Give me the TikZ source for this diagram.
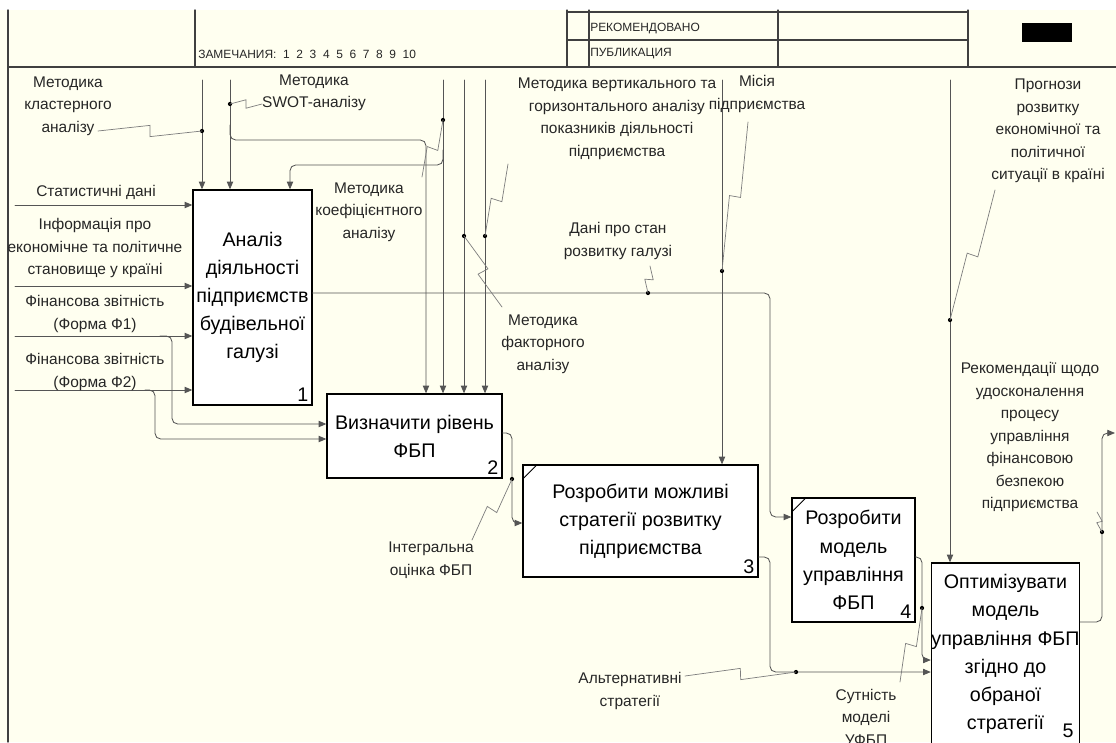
\documentclass[tikz,border=0pt]{standalone}
\usepackage{fontspec}
\setmainfont{Liberation Sans}
\usetikzlibrary{arrows.meta,calc}

\definecolor{paper}{RGB}{255,255,240}
\definecolor{linegray}{RGB}{85,85,85}
\definecolor{squiggray}{RGB}{125,125,125}

\begin{document}
\begin{tikzpicture}[x=0.025cm,y=-0.025cm,line cap=round]
  % Styles
  \tikzset{
    func/.style={draw=black, line width=0.9pt, fill=white, inner sep=0pt,
      align=center, font=\fontsize{14}{20}\selectfont},
    lbl/.style={align=center, text=black!85, inner sep=0pt,
      font=\fontsize{11}{16}\selectfont},
    num/.style={inner sep=0pt, font=\fontsize{14}{14}\selectfont},
    hdr/.style={inner sep=0pt, text=black!85, font=\fontsize{8.5}{9}\selectfont},
    flow/.style={draw=linegray, line width=0.6pt, rounded corners=4pt,
      -{Triangle[length=5.5pt,width=4.5pt]}},
    squig/.style={draw=squiggray, line width=0.5pt,
      to path={-- ($(\tikztostart)!.5!(\tikztotarget)!#1!90:(\tikztotarget)$)
               -- ($(\tikztostart)!.5!(\tikztotarget)!#1!-90:(\tikztotarget)$)
               -- (\tikztotarget)}},
    squig/.default=4pt,
    junct/.style={fill=black, radius=1.5pt}
  }

  \useasboundingbox (0,0) rectangle (1116,742);
  \fill[paper] (0,10) rectangle (1116,742);

  % Header frame
  \draw[line width=1pt, black!75] (8,10) -- (8,742);
  \draw[line width=1pt, black!75] (8,67) -- (1116,67);
  \draw[line width=1pt, black!75] (195,10) -- (195,67);
  \draw[line width=0.8pt, black!75] (567,10) -- (567,67) (589,10) -- (589,67)
    (778,10) -- (778,67) (968,10) -- (968,67)
    (567,12) -- (968,12) (567,40) -- (968,40);
  \fill[black] (1022,23) rectangle (1072,42);
  \node[hdr, anchor=base west] (zamech) at (198,59) {ЗАМЕЧАНИЯ:\ \ 1~~2~~3~~4~~5~~6~~7~~8~~9~~10};
  \node[hdr, anchor=base west] (rekom) at (590,32) {РЕКОМЕНДОВАНО};
  \node[hdr, anchor=base west] (publ) at (590,57) {ПУБЛИКАЦИЯ};

  % Function boxes
  \node[func, minimum width=2.975cm, minimum height=5.375cm] (analiz) at (252.5,297.5)
    {Аналіз\\діяльності\\підприємств\\будівельної\\галузі};
  \node[func, minimum width=4.375cm, minimum height=2.1cm] (rivn) at (414.5,436)
    {Визначити рівень\\ФБП};
  \node[func, minimum width=5.875cm, minimum height=2.8cm] (strat) at (640.5,521)
    {Розробити можливі\\стратегії розвитку\\підприємства};
  \node[func, minimum width=3.075cm, minimum height=3.1cm] (model) at (853.5,560)
    {Розробити\\модель\\управління\\ФБП};
  \node[func, minimum width=3.625cm, minimum height=4.55cm] (optim) at (1005.5,654)
    {Оптимізувати\\модель\\управління ФБП\\згідно до\\обраної\\стратегії};

  \node[num, anchor=south east] at ($(analiz.south east)+(-4,-4)$) {1};
  \node[num, anchor=south east] at ($(rivn.south east)+(-4,-4)$) {2};
  \node[num, anchor=south east] at ($(strat.south east)+(-4,-4)$) {3};
  \node[num, anchor=south east] at ($(model.south east)+(-4,-4)$) {4};
  \node[num] at (1068,731) {5};
  \draw[line width=0.6pt] ($(strat.north west)+(0,15)$) -- ++(15,-15);
  \draw[line width=0.6pt] ($(model.north west)+(0,15)$) -- ++(15,-15);

  % Inputs
  \coordinate (in1) at (15,205);
  \coordinate (in2) at (15,286);
  \coordinate (in3) at (15,336);
  \coordinate (in4) at (15,390);
  \draw[flow] (in1) -- (analiz.west |- in1);
  \draw[flow] (in2) -- (analiz.west |- in2);
  \draw[flow] (in3) -- (analiz.west |- in3);
  \draw[flow] (in4) -- (analiz.west |- in4);
  \draw[flow] (160,336) -- (172,336) -- (172,424) -- (rivn.west |- 0,424);
  \draw[flow] (145,390) -- (155,390) -- (155,439) -- (rivn.west |- 0,439);

  \node[lbl] (lstat) at (96,192) {Статистичні дані};
  \node[lbl] (linfo) at (95,248) {Інформація про\\економічне та політичне\\становище у країні};
  \node[lbl] (lf1) at (95,314) {Фінансова звітність\\(Форма Ф1)};
  \node[lbl] (lf2) at (95,372) {Фінансова звітність\\(Форма Ф2)};

  % Controls
  \draw[flow] (202,80) -- (analiz.north -| 202,0);
  \draw[flow] (230,80) -- (analiz.north -| 230,0);
  \draw[flow] (230,125) -- (230,140) -- (426,140) -- (rivn.north -| 426,0);
  \draw[flow] (443,80) -- (rivn.north -| 443,0);
  \draw[flow] (464,80) -- (rivn.north -| 464,0);
  \draw[flow] (485,80) -- (rivn.north -| 485,0);
  \draw[flow] (443,150) -- (443,165) -- (290,165) -- (analiz.north -| 290,0);
  \draw[flow] (722,80) -- (strat.north -| 722,0);
  \draw[flow] (950,80) -- (optim.north -| 950,0);

  % Outputs
  \draw[flow] (analiz.east |- 0,293) -- (770,293) -- (770,517) -- (model.west |- 0,517);
  \draw[flow] (rivn.east |- 0,433) -- (512,433) -- (512,523) -- (strat.west |- 0,523);
  \draw[flow] (strat.east |- 0,557) -- (770,557) -- (770,672) -- (optim.west |- 0,672);
  \draw[flow] (model.east |- 0,557) -- (922,557) -- (922,660) -- (optim.west |- 0,660);
  \coordinate (out5) at (1115,433);
  \draw[flow] (optim.east |- 0,622) -- (1102,622) -- (1102,433) -- (out5);

  % Junctions
  \coordinate (d-klast) at (202,131);
  \coordinate (d-swot) at (230,104);
  \coordinate (d-koef) at (443,120);
  \coordinate (d-fakt) at (464,236);
  \coordinate (d-vert) at (485,236);
  \coordinate (d-dani) at (648,293);
  \coordinate (d-misia) at (722,271);
  \coordinate (d-progn) at (950,320);
  \coordinate (d-integr) at (512,479);
  \coordinate (d-alt) at (796,672);
  \coordinate (d-sut) at (922,608);
  \coordinate (d-rek) at (1102,532);
  \foreach \d in {klast,swot,koef,fakt,vert,dani,misia,progn,integr,alt,sut,rek}
    \fill[junct] (d-\d) circle;

  % Arrow labels
  \node[lbl] (lklast) at (68,106) {Методика\\кластерного\\аналізу};
  \node[lbl] (lswot) at (314,93) {Методика\\SWOT-аналізу};
  \node[lbl] (lkoef) at (369,212) {Методика\\коефіцієнтного\\аналізу};
  \node[lbl] (lfakt) at (543,344) {Методика\\факторного\\аналізу};
  \node[lbl] (lvert) at (617,119) {Методика вертикального та\\горизонтального аналізу\\показників діяльності\\підприємства};
  \node[lbl] (ldani) at (618,241) {Дані про стан\\розвитку галузі};
  \node[lbl] (lmisia) at (757,94) {Місія\\підприємства};
  \node[lbl] (lprogn) at (1048,131) {Прогнози\\розвитку\\економічної та\\політичної\\ситуації в країні};
  \node[lbl] (lintegr) at (431,560) {Інтегральна\\оцінка ФБП};
  \node[lbl] (lalt) at (630,691) {Альтернативні\\стратегії};
  \node[lbl] (lsut) at (866,717) {Сутність\\моделі\\УФБП};
  \node[lbl] (lrek) at (1030,437) {Рекомендації щодо\\удосконалення\\процесу\\управління\\фінансовою\\безпекою\\підприємства};

  % Squiggles
  \coordinate (s-klast) at (98,131);
  \coordinate (s-swot) at (262,104);
  \coordinate (s-koef) at (422,177);
  \coordinate (s-fakt) at (502,307);
  \coordinate (s-vert) at (508,164);
  \coordinate (s-dani) at (650,266);
  \coordinate (s-misia) at (748,122);
  \coordinate (s-progn) at (995,190);
  \coordinate (s-integr) at (472,540);
  \coordinate (s-alt) at (685,676);
  \coordinate (s-sut) at (900,682);
  \coordinate (s-rek) at (1097,512);
  \draw[squig] (s-klast) to (d-klast);
  \draw[squig=3pt] (s-swot) to (d-swot);
  \draw[squig] (s-koef) to (d-koef);
  \draw[squig] (s-fakt) to (d-fakt);
  \draw[squig] (s-vert) to (d-vert);
  \draw[squig=3pt] (s-dani) to (d-dani);
  \draw[squig] (s-misia) to (d-misia);
  \draw[squig] (s-progn) to (d-progn);
  \draw[squig] (s-integr) to (d-integr);
  \draw[squig] (s-alt) to (d-alt);
  \draw[squig] (s-sut) to (d-sut);
  \draw[squig=2pt] (s-rek) to (d-rek);
\end{tikzpicture}
\end{document}
